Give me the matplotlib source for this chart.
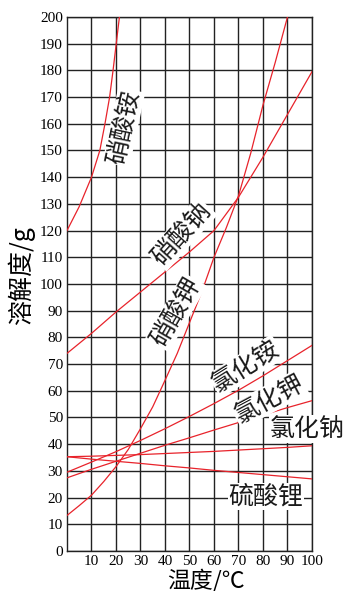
import matplotlib
matplotlib.use("Agg")
import matplotlib.pyplot as plt

plt.rcParams['font.family'] = ['Noto Sans CJK SC', 'DejaVu Sans']

# solubility curves (temperature in C, g per 100 g water)
nh4no3_t = [0, 5, 10, 13.4, 15.5, 17.4, 18.8, 20.1, 21.4]
nh4no3_s = [120, 129, 140, 150, 160, 170, 180, 190, 200]

nano3_t = [0, 10, 20, 30, 40, 50, 60, 70, 80, 90, 100]
nano3_s = [74, 81.5, 89.5, 97, 104.5, 112, 120, 132.5, 147.5, 163.5, 179.5]

kno3_t = [0, 5, 10, 15, 20, 25, 30, 35, 40, 45, 50, 55, 60, 65, 70, 75, 80, 85, 90]
kno3_s = [13.3, 17, 20.9, 26, 31.6, 38, 45.8, 54, 63.9, 74, 85.5, 97, 110, 121, 133, 149, 167, 183, 200]

temps = [0, 10, 20, 30, 40, 50, 60, 70, 80, 90, 100]
nh4cl_s = [29.5, 33.3, 37.2, 41.4, 45.8, 50.4, 55.2, 60.2, 65.6, 71.3, 77.0]
kcl_s = [27.4, 30.6, 33.6, 36.6, 39.6, 42.4, 45.3, 48.1, 50.9, 53.7, 56.3]
nacl_s = [35.3, 35.5, 35.8, 36.1, 36.5, 36.9, 37.3, 37.8, 38.3, 38.8, 39.4]
li2so4_s = [35.3, 34.4, 33.6, 32.8, 31.9, 31.1, 30.2, 29.4, 28.6, 27.8, 27.0]

# label text, position (temperature, solubility) and rotation
labels = ['硝酸铵', '硝酸钠', '硝酸钾', '氯化铵', '氯化钾', '氯化钠', '硫酸锂']
label_t = [23.2, 46.9, 44.5, 73.1, 82.5, 98.1, 81.3]
label_s = [158.7, 118.7, 89.4, 69.2, 56.9, 45.6, 20.5]
label_rot = [78, 48, 60, 32, 28, 0, 0]

xticks = list(range(10, 101, 10))
yticks = list(range(0, 201, 10))

red = '#e8232b'
grid_c = '#222222'

fig = plt.figure(figsize=(3.5, 5.91), dpi=100)
ax = fig.add_axes([0.1914, 0.0677, 0.70, 0.9036])

ax.set_xlim(0, 100)
ax.set_ylim(0, 200)
ax.set_xticks(xticks)
ax.set_yticks(yticks)
ax.grid(True, color=grid_c, linewidth=1.0)
ax.set_axisbelow(True)
for sp in ax.spines.values():
    sp.set_color(grid_c)
    sp.set_linewidth(1.0)

tick_font = dict(family='Liberation Serif', size=11)
ax.set_xticklabels([str(t) for t in xticks], fontdict=tick_font)
ax.set_yticklabels([str(t) for t in yticks], fontdict=tick_font)
ax.tick_params(length=0, pad=3)

for t, s in [(nh4no3_t, nh4no3_s), (nano3_t, nano3_s), (kno3_t, kno3_s),
             (temps, nh4cl_s), (temps, kcl_s), (temps, nacl_s), (temps, li2so4_s)]:
    ax.plot(t, s, color=red, linewidth=0.9, zorder=3)

for txt, x, y, r in zip(labels, label_t, label_s, label_rot):
    ax.text(x, y, txt, rotation=r, ha='center', va='center', fontsize=18,
            color='#1a1a1a', zorder=5, clip_on=False,
            bbox=dict(facecolor='white', edgecolor='none', pad=0.5))

ax.set_ylabel('溶解度/g', fontsize=18, va='center', ha='center')
ax.yaxis.set_label_coords(-0.185, 0.515)
ax.set_xlabel('温度/℃', fontsize=16.5, va='center', ha='center')
ax.xaxis.set_label_coords(0.567, -0.055)

fig.savefig('out.png', dpi=100)
